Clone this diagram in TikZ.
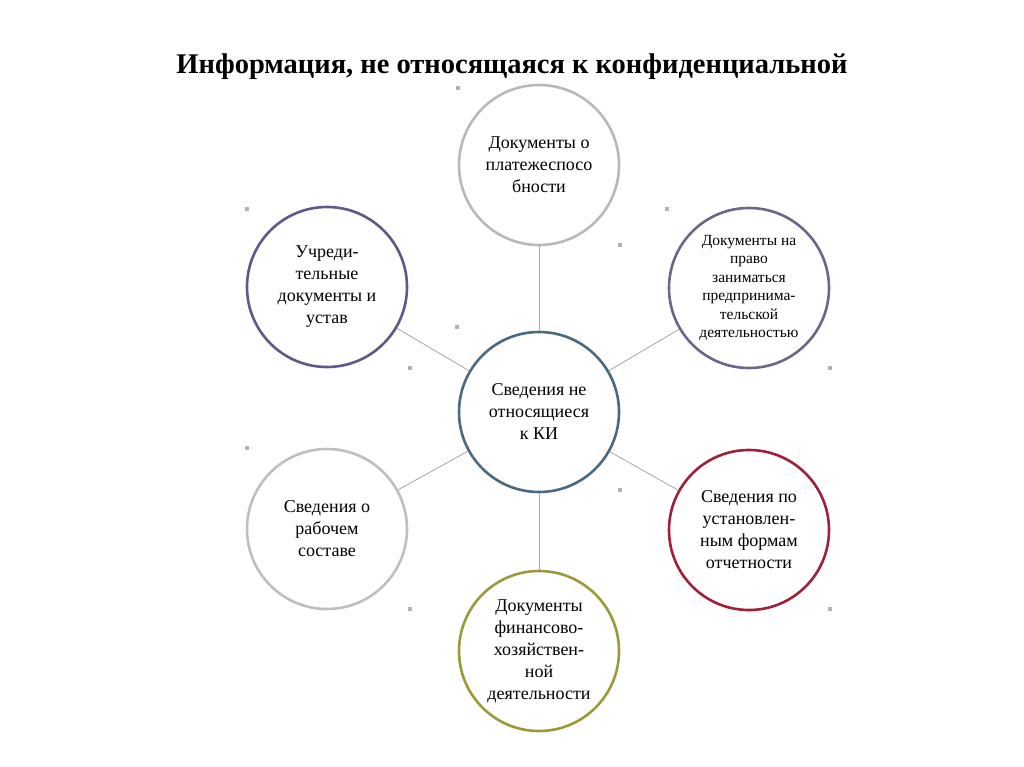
\documentclass[tikz,border=0pt]{standalone}
\usepackage{fontspec}
\setmainfont{Liberation Serif}
\begin{document}
\begin{tikzpicture}[x=1pt,y=-1pt,
  circ/.style={circle,draw,line width=2.6pt,minimum size=160pt,inner sep=0pt},
  txt/.style={align=center,font=\fontsize{18}{22}\selectfont,inner sep=0pt},
  link/.style={draw=gray!70,line width=0.8pt},
  dot/.style={fill=gray!60,minimum size=3.5pt,inner sep=0pt}]
\useasboundingbox (0,0) rectangle (1024,767);
\node[font=\bfseries\fontsize{28.5}{32}\selectfont] (title) at (512,67) {Информация, не относящаяся к конфиденциальной};
\node[circ,draw={rgb,255:red,74;green,106;blue,128}] (c) at (539,412) {};
\node[txt] (ct) at (c) {Сведения не\\относящиеся\\к КИ};
\node[circ,draw=gray!55] (t) at (539,165) {};
\node[txt] (tt) at (t) {Документы о\\платежеспосо\\бности};
\node[circ,draw={rgb,255:red,95;green,88;blue,138}] (ul) at (327,287) {};
\node[txt] (ult) at (ul) {Учреди-\\тельные\\документы и\\устав};
\node[circ,draw={rgb,255:red,106;green,104;blue,137}] (ur) at (749,288) {};
\node[txt,font=\fontsize{15.5}{18.5}\selectfont] (urt) at (ur) {Документы на\\право\\заниматься\\предпринима-\\тельской\\деятельностью};
\node[circ,draw=gray!50] (ll) at (327,529) {};
\node[txt] (llt) at (ll) {Сведения о\\рабочем\\составе};
\node[circ,draw={rgb,255:red,160;green,32;blue,58}] (lr) at (749,530) {};
\node[txt] (lrt) at (lr) {Сведения по\\установлен-\\ным формам\\отчетности};
\node[circ,draw={rgb,255:red,154;green,154;blue,58}] (b) at (539,651) {};
\node[txt] (bt) at (b) {Документы\\финансово-\\хозяйствен-\\ной\\деятельности};
\foreach \n in {t,ul,ur,ll,lr,b} \draw[link] (c) -- (\n);
\foreach \p [count=\i] in {(458,88),(247,209),(667,209),(620,245),(457,327),(410,368),(830,368),(247,448),(620,490),(830,609),(410,609)}
  \node[dot] (d\i) at \p {};
\end{tikzpicture}
\end{document}
